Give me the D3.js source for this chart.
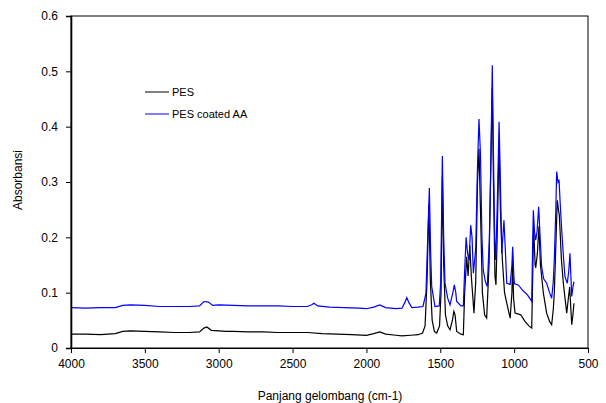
<!DOCTYPE html>
<html><head><meta charset="utf-8">
<script src="https://cdn.jsdelivr.net/npm/d3@7"></script>
<style>body{margin:0;background:#fff}svg{display:block}text{font-family:"Liberation Sans",Arial,sans-serif}</style>
</head><body>
<svg id="c" width="606" height="403"></svg>
<script>
const xTicks=[4000,3500,3000,2500,2000,1500,1000,500];
const yTicks=[0,0.1,0.2,0.3,0.4,0.5,0.6];
const seriesNames=["PES","PES coated AA"];
const seriesColors=["#000000","#0000ff"];
const pesWn=[4000,3900,3800,3700,3650,3600,3500,3400,3300,3200,3130,3100,3080,3050,3000,2950,2900,2800,2700,2600,2500,2400,2300,2200,2100,2000,1950,1910,1870,1800,1760,1700,1650,1620,1603,1590,1577,1567,1555,1540,1524,1505,1495,1486,1477,1465,1450,1434,1418,1408,1400,1389,1360,1344,1335,1321,1312,1300,1290,1272,1260,1248,1238,1228,1215,1200,1186,1170,1160,1148,1140,1130,1123,1115,1102,1093,1080,1065,1050,1027,1015,1010,1004,994,955,927,900,881,875,868,858,854,843,832,822,802,780,760,746,735,728,716,708,700,694,680,667,644,633,624,616,610,602,595];
const pesAbs=[0.025,0.025,0.024,0.026,0.030,0.031,0.030,0.029,0.028,0.028,0.029,0.036,0.038,0.032,0.031,0.030,0.030,0.029,0.029,0.028,0.028,0.028,0.026,0.025,0.024,0.023,0.026,0.029,0.025,0.023,0.022,0.023,0.024,0.027,0.040,0.12,0.26,0.12,0.05,0.03,0.027,0.04,0.1,0.31,0.15,0.06,0.04,0.033,0.05,0.066,0.06,0.03,0.025,0.024,0.1,0.165,0.13,0.185,0.13,0.063,0.12,0.3,0.36,0.25,0.1,0.06,0.054,0.15,0.3,0.47,0.3,0.13,0.114,0.2,0.37,0.25,0.16,0.1,0.081,0.054,0.1,0.165,0.09,0.063,0.06,0.048,0.04,0.036,0.12,0.22,0.15,0.145,0.17,0.22,0.15,0.099,0.063,0.048,0.042,0.07,0.1,0.2,0.267,0.25,0.24,0.16,0.117,0.063,0.09,0.11,0.07,0.042,0.06,0.081];
const aaWn=[4000,3900,3800,3700,3650,3600,3500,3400,3300,3200,3130,3100,3070,3040,3000,2900,2800,2700,2600,2500,2400,2370,2355,2330,2250,2150,2050,2000,1950,1910,1870,1800,1760,1740,1727,1712,1693,1650,1617,1597,1585,1574,1565,1558,1536,1507,1497,1486,1477,1468,1450,1434,1415,1405,1395,1389,1360,1344,1335,1325,1315,1305,1294,1285,1276,1260,1248,1238,1228,1218,1209,1195,1182,1168,1160,1148,1140,1132,1125,1115,1102,1093,1084,1069,1060,1050,1027,1015,1010,1002,998,972,938,910,885,881,874,870,862,854,845,834,824,814,800,780,760,746,735,728,718,712,703,696,688,678,665,656,640,630,622,616,610,602,595];
const aaAbs=[0.073,0.072,0.073,0.073,0.077,0.078,0.077,0.075,0.075,0.075,0.076,0.084,0.083,0.077,0.078,0.077,0.076,0.076,0.076,0.075,0.075,0.078,0.081,0.076,0.074,0.073,0.072,0.071,0.074,0.078,0.073,0.071,0.072,0.082,0.091,0.082,0.073,0.074,0.075,0.099,0.2,0.289,0.17,0.111,0.075,0.076,0.12,0.347,0.2,0.117,0.09,0.078,0.1,0.114,0.1,0.084,0.076,0.076,0.14,0.2,0.17,0.159,0.222,0.2,0.135,0.18,0.33,0.414,0.35,0.2,0.141,0.12,0.111,0.195,0.3,0.511,0.35,0.2,0.159,0.25,0.409,0.3,0.171,0.231,0.18,0.117,0.115,0.15,0.183,0.13,0.116,0.114,0.103,0.096,0.086,0.084,0.2,0.249,0.21,0.195,0.21,0.255,0.2,0.147,0.125,0.117,0.1,0.09,0.12,0.16,0.25,0.319,0.3,0.304,0.26,0.213,0.16,0.129,0.117,0.14,0.171,0.13,0.093,0.11,0.12];

const L=71,R=588,T=16,B=348;
const svg=d3.select("#c");
const x=d3.scaleLinear().domain([4000,500]).range([L,R]);
const y=d3.scaleLinear().domain([0,0.6]).range([B,T]);

svg.append("rect").attr("x",L).attr("y",T).attr("width",R-L).attr("height",B-T)
  .attr("fill","none").attr("stroke","#000").attr("stroke-width",1);

const line=d3.line().x(d=>x(d[0])).y(d=>y(d[1]));
const pes=pesWn.map((w,i)=>[w,pesAbs[i]]);
const aa=aaWn.map((w,i)=>[w,aaAbs[i]]);
svg.append("path").datum(pes).attr("d",line).attr("fill","none").attr("stroke",seriesColors[0]).attr("stroke-width",1.2);
svg.append("path").datum(aa).attr("d",line).attr("fill","none").attr("stroke",seriesColors[1]).attr("stroke-width",1.2);

const xa=svg.append("g").attr("transform",`translate(0,${B})`)
  .call(d3.axisBottom(x).tickValues(xTicks).tickFormat(d3.format("d")).tickSize(5).tickPadding(6));
const ya=svg.append("g").attr("transform",`translate(${L},0)`)
  .call(d3.axisLeft(y).tickValues(yTicks).tickFormat(d=>d===0?"0":d3.format(".1f")(d)).tickSize(5).tickPadding(8));
[xa,ya].forEach(g=>{g.selectAll("text").attr("font-size",12).attr("fill","#000").attr("font-family","Liberation Sans, Arial, sans-serif");
  g.selectAll("line").attr("stroke","#000");g.select(".domain").attr("stroke","#000");});
ya.select(".domain").attr("stroke-width",1.6);

svg.append("text").attr("x",330).attr("y",400).attr("text-anchor","middle").attr("font-size",12).text("Panjang gelombang (cm-1)");
svg.append("text").attr("transform","translate(22,180) rotate(-90)").attr("text-anchor","middle").attr("font-size",12).text("Absorbansi");

const lg=[[92,0],[114,1]];
lg.forEach(([ly,i])=>{
  svg.append("line").attr("x1",145).attr("x2",169).attr("y1",ly).attr("y2",ly).attr("stroke",seriesColors[i]).attr("stroke-width",1);
  svg.append("text").attr("x",172).attr("y",ly+4).attr("font-size",11).text(seriesNames[i]);
});
</script>
</body></html>
